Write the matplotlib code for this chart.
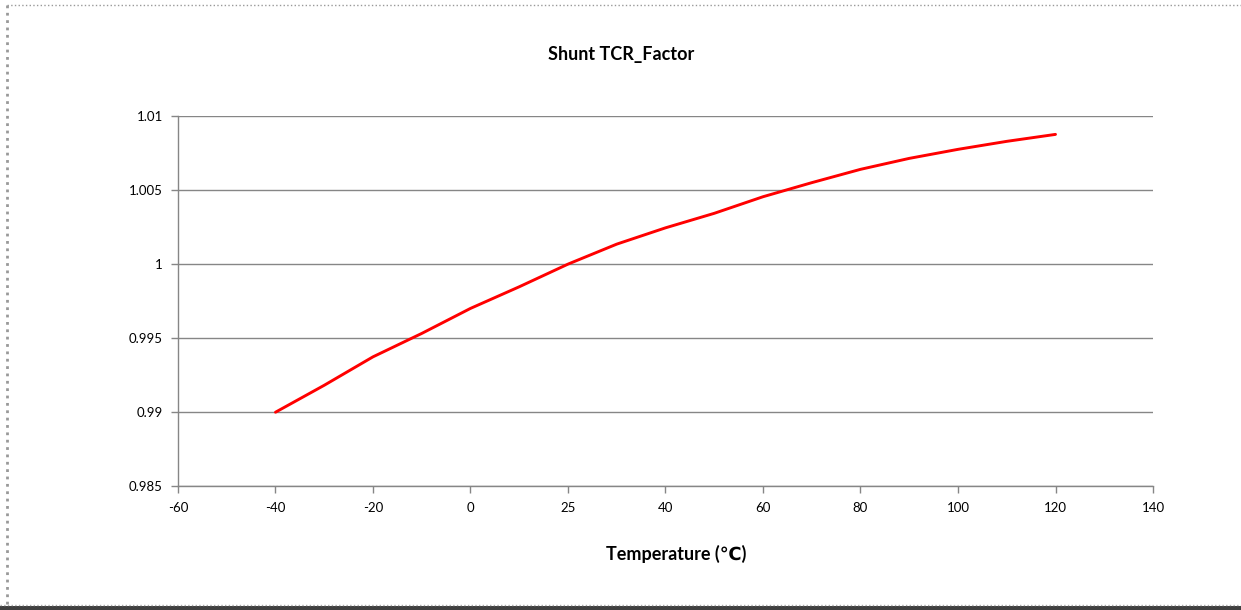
import matplotlib.pyplot as plt
from matplotlib.lines import Line2D
from matplotlib.patches import Rectangle

plt.rcParams['font.family'] = ['Lato', 'DejaVu Sans']

# data
temps = [-40, -30, -20, -10, 0, 10, 20, 30, 40, 50, 60, 70, 80, 90, 100, 110, 120]
factor = [0.9900, 0.99182, 0.99374, 0.99532, 0.99701, 0.99847, 1.0000, 1.00135,
          1.00245, 1.00343, 1.00455, 1.0055, 1.0064, 1.00714, 1.00775, 1.00829, 1.00876]

xticks = [-60, -40, -20, 0, 20, 40, 60, 80, 100, 120, 140]
xtick_labels = ['-60', '-40', '-20', '0', '25', '40', '60', '80', '100', '120', '140']
yticks = [0.985, 0.99, 0.995, 1.0, 1.005, 1.01]
ytick_labels = ['0.985', '0.99', '0.995', '1', '1.005', '1.01']

fig = plt.figure(figsize=(12.41, 6.10), dpi=100)
ax = fig.add_axes([0.1434, 0.2028, 0.7857, 0.607])

ax.plot(temps, factor, color='#ff0000', linewidth=2.1, solid_capstyle='round',
        solid_joinstyle='round', zorder=3)

ax.set_xlim(-60, 140)
ax.set_ylim(0.985, 1.01)
ax.set_xticks(xticks)
ax.set_xticklabels(xtick_labels)
ax.set_yticks(yticks)
ax.set_yticklabels(ytick_labels)
ax.tick_params(axis='both', direction='out', length=5, width=1, color='#868686',
               labelsize=9.5, labelcolor='black', pad=6)

ax.grid(axis='y', color='#868686', linewidth=1)
ax.set_axisbelow(True)
for side in ['top', 'right']:
    ax.spines[side].set_visible(False)
for side in ['left', 'bottom']:
    ax.spines[side].set_color('#868686')
    ax.spines[side].set_linewidth(1)

fig.text(0.5005, 0.910, 'Shunt TCR_Factor', ha='center', va='center',
         fontsize=13, fontweight='bold')
fig.text(0.5450, 0.092, 'Temperature (℃)', ha='center', va='center',
         fontsize=13, fontweight='bold')

# excel-ish frame: dotted top/left, dark shadow at bottom
fig.add_artist(Line2D([7/1241, 1], [1 - 5/610, 1 - 5/610], transform=fig.transFigure,
                      color='#999999', linewidth=1, linestyle=':'))
fig.add_artist(Line2D([7/1241, 7/1241], [6/610, 1 - 5/610], transform=fig.transFigure,
                      color='#999999', linewidth=2, linestyle=':'))
fig.add_artist(Rectangle((0, 0), 1, 4/610, transform=fig.transFigure,
                         color='#404040', linewidth=0))
fig.add_artist(Line2D([0, 1], [5/610, 5/610], transform=fig.transFigure,
                      color='#aaaaaa', linewidth=1, linestyle=':'))

fig.savefig('out.png', dpi=100)
